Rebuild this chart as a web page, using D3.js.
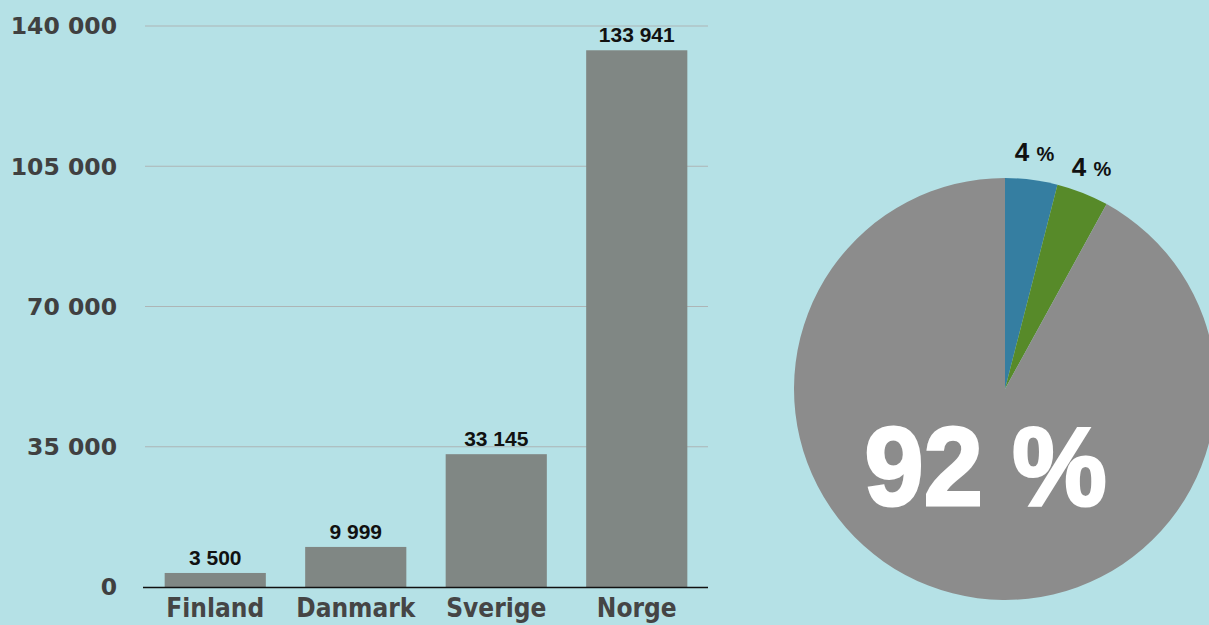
<!DOCTYPE html>
<html lang="en">
<head>
    <meta charset="UTF-8">
    <title>Nordic chart</title>
    <script src="https://cdn.jsdelivr.net/npm/d3@7"></script>
    <style>
        body { margin: 0; background: #b5e1e6; }
        svg { display: block; }
    </style>
</head>
<body>
<script>
    const countries = ['Finland', 'Danmark', 'Sverige', 'Norge']
    const values = [3500, 9999, 33145, 133941]
    const yTicks = [0, 35000, 70000, 105000, 140000]
    const pieLabels = ['4 %', '4 %', '92 %']
    const pieShares = [4, 4, 92]
    const pieColors = ['#357ea1', '#578a29', '#8c8c8c']

    const [width, height] = [1209, 625]
    const fmt = v => d3.format(',')(v).replace(/,/g, ' ')

    const svg = d3.select('body').append('svg')
        .attr('width', width)
        .attr('height', height)

    svg.append('rect').attr('width', width).attr('height', height).attr('fill', '#b5e1e6')

    // bar chart
    const x = d3.scaleBand().domain(countries).range([145, 707]).paddingInner(0.28).paddingOuter(0.14)
    const y = d3.scaleLinear().domain([0, 140000]).range([587, 26])

    svg.append('g').selectAll('line').data(yTicks.filter(t => t > 0)).join('line')
        .attr('x1', 145).attr('x2', 708)
        .attr('y1', d => y(d)).attr('y2', d => y(d))
        .attr('stroke', '#adb5b6').attr('stroke-width', 1)

    svg.append('g').selectAll('text').data(yTicks).join('text')
        .attr('x', 117).attr('y', d => y(d)).attr('dy', '0.36em')
        .attr('text-anchor', 'end')
        .attr('font-family', 'DejaVu Sans').attr('font-weight', 'bold')
        .attr('font-size', 23.5).attr('fill', '#404040')
        .text(d => fmt(d))

    svg.append('g').selectAll('rect').data(values).join('rect')
        .attr('x', (d, i) => x(countries[i]))
        .attr('width', x.bandwidth())
        .attr('y', d => y(d))
        .attr('height', d => y(0) - y(d))
        .attr('fill', '#808784')

    svg.append('g').selectAll('text').data(values).join('text')
        .attr('x', (d, i) => x(countries[i]) + x.bandwidth() / 2)
        .attr('y', d => y(d) - 8)
        .attr('text-anchor', 'middle')
        .attr('font-family', 'Liberation Sans, Arial, sans-serif').attr('font-weight', 'bold')
        .attr('font-size', 21).attr('fill', '#111')
        .text(d => fmt(d))

    svg.append('line')
        .attr('x1', 143).attr('x2', 708).attr('y1', 587.5).attr('y2', 587.5)
        .attr('stroke', '#111').attr('stroke-width', 1.5)

    // x axis labels, kept just inside the bottom edge
    const xAxis = d3.axisBottom(x).tickSize(0).tickPadding(0)
    const gx = svg.append('g').attr('transform', 'translate(0, 598)').call(xAxis)
    gx.select('.domain').remove()
    gx.selectAll('text')
        .attr('y', 19).attr('dy', null)
        .attr('font-family', 'DejaVu Sans Condensed, DejaVu Sans, sans-serif')
        .attr('font-weight', 'bold').attr('font-size', 26)
        .attr('fill', '#454545')

    // pie chart
    const [cx, cy, r] = [1005, 389, 211]
    const pie = d3.pie().sort(null).value(d => d)
    const arcs = pie(pieShares)
    const arc = d3.arc().innerRadius(0).outerRadius(r)
    const g = svg.append('g').attr('transform', `translate(${cx}, ${cy})`)
    g.selectAll('path').data(arcs).join('path')
        .attr('d', arc)
        .attr('fill', (d, i) => pieColors[i])

    const outerArc = d3.arc().innerRadius(r + 24).outerRadius(r + 24)
    const smallLabels = g.selectAll('text.small').data(arcs.slice(0, 2)).join('text')
        .attr('class', 'small')
        .attr('transform', d => `translate(${outerArc.centroid(d)})`)
        .attr('dy', '0.35em')
        .attr('text-anchor', 'middle')
        .attr('font-family', 'Liberation Sans, Arial, sans-serif').attr('font-weight', 'bold')
        .attr('fill', '#111')
    smallLabels.append('tspan').attr('font-size', 26).text((d, i) => pieLabels[i].split(' ')[0] + ' ')
    smallLabels.append('tspan').attr('font-size', 20).text('%')

    const innerArc = d3.arc().innerRadius(78).outerRadius(78)
    g.append('text')
        .attr('transform', `translate(${innerArc.centroid(arcs[2])})`)
        .attr('dy', '0.36em')
        .attr('text-anchor', 'middle')
        .attr('font-family', 'Liberation Sans, Arial, sans-serif').attr('font-weight', 'bold')
        .attr('font-size', 112).attr('fill', '#ffffff')
        .attr('stroke', '#ffffff').attr('stroke-width', 3)
        .attr('textLength', 242).attr('lengthAdjust', 'spacingAndGlyphs')
        .text(pieLabels[2])
</script>
</body>
</html>
